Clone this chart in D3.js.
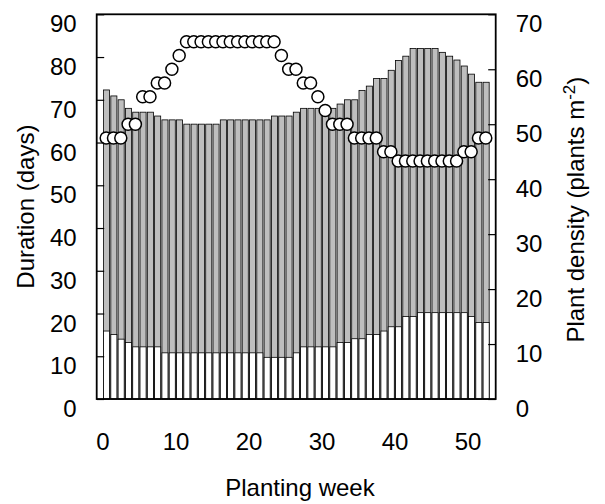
<!DOCTYPE html>
<html>
<head>
<meta charset="utf-8">
<script src="https://cdn.jsdelivr.net/npm/d3@7"></script>
<style>
  body { margin: 0; background: #fff; }
  text { font-family: "Liberation Sans", Arial, sans-serif; fill: #000; }
</style>
</head>
<body>
<div id="chart"></div>
<script>
// planting week of each bar / point
const weeks = [0,1,2,3,4,5,6,7,8,9,10,11,12,13,14,15,16,17,18,19,20,21,22,23,24,25,26,
  27,28,29,30,31,32,33,34,35,36,37,38,39,40,41,42,43,44,45,46,47,48,49,50,51,52];

// total duration (top of grey bar), days
const totalDuration = [72.3,70.9,70,68,67.1,67.1,67.1,66.2,65.3,65.3,65.3,64.3,64.3,64.3,64.3,64.3,
  65.3,65.3,65.3,65.3,65.3,65.3,65.3,66.2,66.2,66.2,67.1,68,68,68,68,68,69,70,70,72.2,73.2,
  75,75,76.9,79.2,80.2,82,82,82,82,81.1,80.2,79.3,77.9,76,74.1,74.1];

// first phase duration (top of white bar), days
const firstDuration = [15.9,15.1,14,13.2,12.2,12.2,12.2,12.2,10.8,10.8,10.8,10.8,10.8,10.8,10.8,
  10.8,10.8,10.8,10.8,10.8,10.8,10.8,9.75,9.75,9.75,9.75,10.8,12.2,12.2,12.2,12.2,12.2,13.2,13.2,
  14.1,14.1,15.1,15.1,15.9,16.9,16.9,19.3,19.3,20.2,20.2,20.2,20.2,20.2,20.2,20.2,19.3,17.9,17.9];

// plant density, plants per m2 (right axis)
const density = [47.5,47.5,47.5,50,50,55,55,57.5,57.5,60,62.5,65,65,65,65,65,65,65,65,65,65,65,65,
  65,62.5,60,60,57.5,57.5,55,52.5,50,50,50,47.5,47.5,47.5,47.5,45,45,43.3,43.3,43.3,43.3,43.3,
  43.3,43.3,43.3,43.3,45,45,47.5,47.5];

const leftTicks = [0,10,20,30,40,50,60,70,80,90];
const rightTicks = [0,10,20,30,40,50,60,70];
const xTicks = [0,10,20,30,40,50];

const width = 605, height = 504;
const plot = { left: 96.7, right: 495.7, top: 14.3, bottom: 399 };

const svg = d3.select("#chart").append("svg")
  .attr("width", width)
  .attr("height", height);

const x = d3.scaleLinear().domain([-0.8, 53.86]).range([plot.left, plot.right]);
const yLeft = d3.scaleLinear().domain([0, 90]).range([plot.bottom, plot.top]);
const yRight = d3.scaleLinear().domain([0, 70]).range([plot.bottom, plot.top]);

const barW = (x(1) - x(0)) / 1.2;
const fontSize = 24;
const tickLen = 7.5;

// bars: grey full height, then white first phase on top
const bars = svg.append("g");
bars.selectAll("rect.total")
  .data(weeks)
  .enter().append("rect")
  .attr("class", "total")
  .attr("x", (d, i) => x(d + 0.55) - barW / 2)
  .attr("width", barW)
  .attr("y", (d, i) => yLeft(totalDuration[i]))
  .attr("height", (d, i) => yLeft(0) - yLeft(totalDuration[i]))
  .attr("fill", "#bebebe")
  .attr("stroke", "#000")
  .attr("stroke-width", 0.8);

bars.selectAll("rect.first")
  .data(weeks)
  .enter().append("rect")
  .attr("class", "first")
  .attr("x", (d, i) => x(d + 0.55) - barW / 2)
  .attr("width", barW)
  .attr("y", (d, i) => yLeft(firstDuration[i]))
  .attr("height", (d, i) => yLeft(0) - yLeft(firstDuration[i]))
  .attr("fill", "#fff")
  .attr("stroke", "#000")
  .attr("stroke-width", 0.8);

// density points
svg.append("g").selectAll("circle")
  .data(weeks)
  .enter().append("circle")
  .attr("cx", d => x(d + 0.5))
  .attr("cy", (d, i) => yRight(density[i]))
  .attr("r", 6)
  .attr("fill", "#fff")
  .attr("stroke", "#000")
  .attr("stroke-width", 1.5);

// axes
const leftAxis = d3.axisLeft(yLeft).tickValues(leftTicks).tickSizeInner(-tickLen).tickSizeOuter(0).tickPadding(20);
const rightAxis = d3.axisRight(yRight).tickValues(rightTicks).tickSizeInner(-tickLen).tickSizeOuter(0).tickPadding(20);
const bottomAxis = d3.axisBottom(x).tickValues(xTicks).tickSize(0).tickPadding(34);

function styleAxis(g) {
  g.select(".domain").remove();
  g.selectAll(".tick line").attr("stroke", "#000").attr("stroke-width", 1.2);
  g.selectAll(".tick text")
    .attr("font-size", fontSize)
    .attr("font-family", "Liberation Sans, Arial, sans-serif")
    .attr("fill", "#000");
}

svg.append("g").attr("transform", `translate(${plot.left},0)`).call(leftAxis).call(styleAxis)
  .selectAll(".tick text").attr("dy", "0.9em").attr("y", -4);
svg.append("g").attr("transform", `translate(${plot.right},0)`).call(rightAxis).call(styleAxis)
  .selectAll(".tick text").attr("dy", "0.9em").attr("y", -4);
svg.append("g").attr("transform", `translate(0,${plot.bottom})`).call(bottomAxis).call(styleAxis);

// frame
svg.append("rect")
  .attr("x", plot.left).attr("y", plot.top)
  .attr("width", plot.right - plot.left).attr("height", plot.bottom - plot.top)
  .attr("fill", "none").attr("stroke", "#000").attr("stroke-width", 1.8);

// titles
svg.append("text")
  .attr("x", 300).attr("y", 496)
  .attr("text-anchor", "middle")
  .attr("font-size", fontSize)
  .text("Planting week");

svg.append("text")
  .attr("transform", `translate(34,${(plot.top + plot.bottom) / 2}) rotate(-90)`)
  .attr("text-anchor", "middle")
  .attr("font-size", fontSize)
  .text("Duration (days)");

const rt = svg.append("text")
  .attr("transform", `translate(584,${(plot.top + plot.bottom) / 2 + 3}) rotate(-90)`)
  .attr("text-anchor", "middle")
  .attr("font-size", fontSize);
rt.append("tspan").text("Plant density (plants m");
rt.append("tspan").attr("dy", -9).attr("font-size", 17).text("-2");
rt.append("tspan").attr("dy", 9).text(")");
</script>
</body>
</html>
